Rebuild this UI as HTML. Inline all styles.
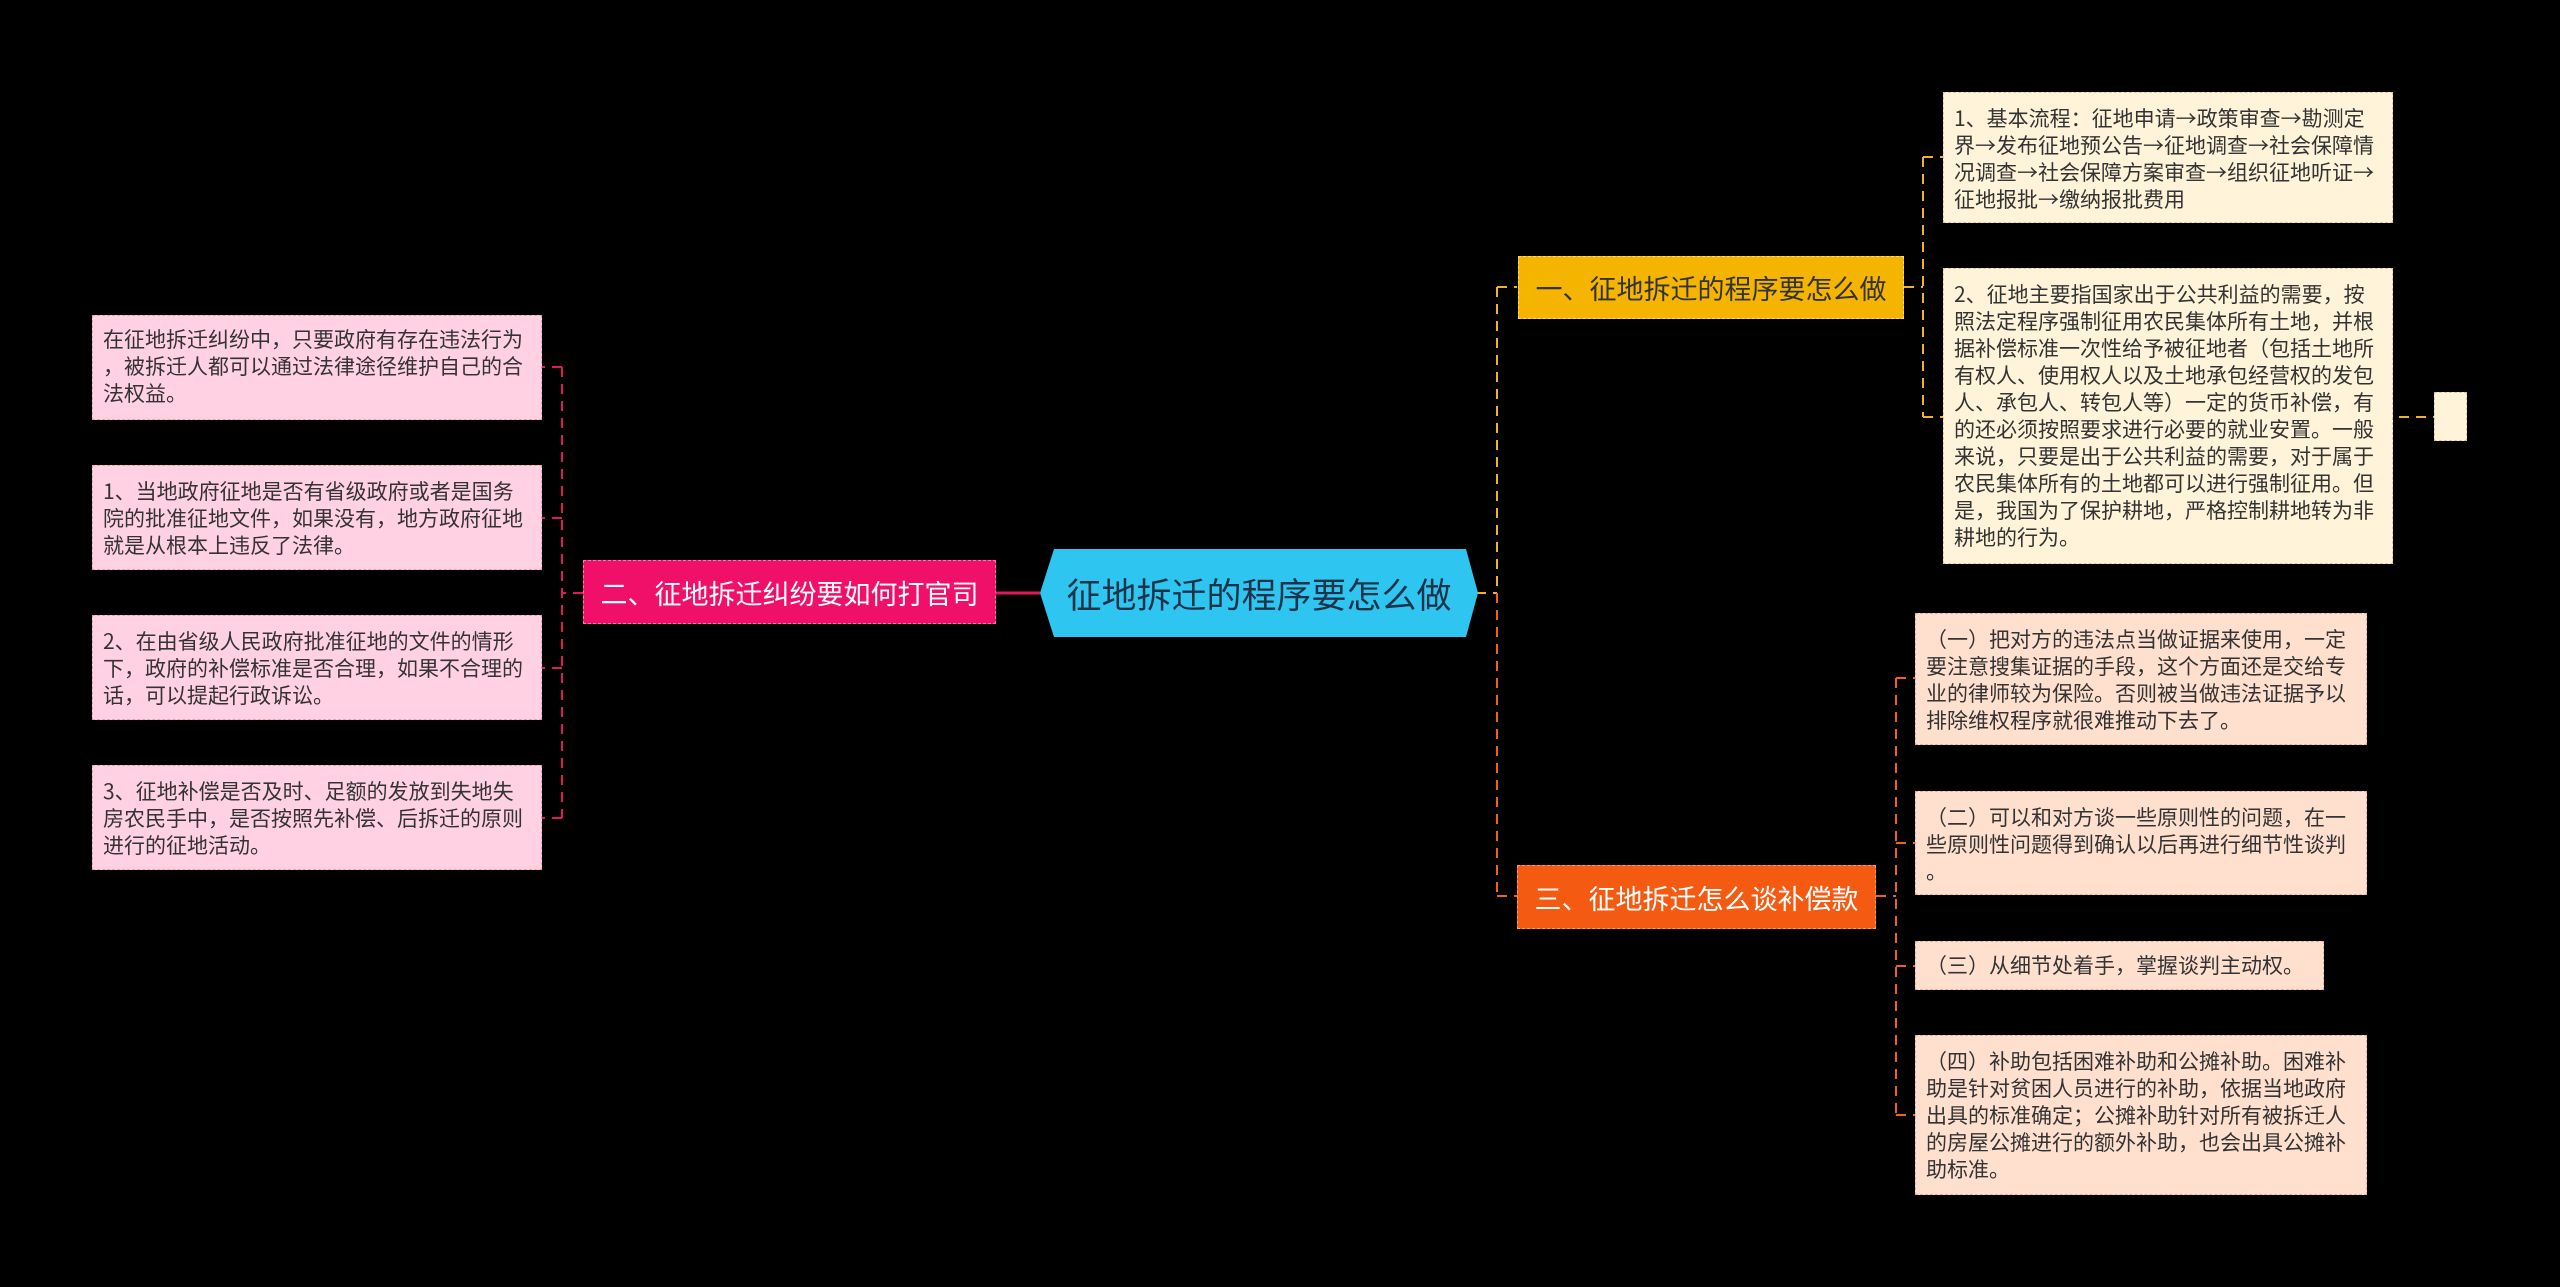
<!DOCTYPE html>
<html><head><meta charset="utf-8"><style>
body{margin:0;width:2560px;height:1287px;background:#000;position:relative;overflow:hidden;font-family:"Liberation Sans","Noto Sans CJK SC",sans-serif}
.b{position:absolute;box-sizing:border-box;font-family:"Noto Sans CJK SC","Liberation Sans",sans-serif;font-size:21px;line-height:27px;color:#333;padding:10px 12px 0 10px;word-break:break-all;line-break:anywhere}
.p{background:#ffd1e3;border:1.5px dashed #e8a0bc}
.y{background:#fff4d9;border:1.5px dashed #e0c890}
.o{background:#ffe0cf;border:1.5px dashed #e8b090}
.n{position:absolute;box-sizing:border-box;display:flex;align-items:center;justify-content:center;font-size:27px;color:#fff;white-space:nowrap}
svg{position:absolute;left:0;top:0}
</style></head><body>
<svg width="2560" height="1287">
<g fill="none" stroke-width="2" stroke-dasharray="10,7">
<path d="M1040 593 H996" stroke="#e0185e" stroke-dasharray="none" stroke-width="3"/>
<path d="M583 593 H562 M562 367 V818 M562 367 H542 M562 518 H542 M562 668 H542 M562 818 H542" stroke="#e0185e"/>
<path d="M1476 593 H1497 M1497 287 V593 M1497 287 H1517" stroke="#f0b030"/>
<path d="M1497 593 V896 M1497 896 H1517" stroke="#f06020"/>
<path d="M1904 287 H1923 M1923 157 V417 M1923 157 H1943 M1923 417 H2434" stroke="#f0b030"/>
<path d="M1876 896 H1896 M1896 678 V1115 M1896 678 H1915 M1896 843 H1915 M1896 966 H1915 M1896 1115 H1915" stroke="#f06020"/>
</g>
<polygon points="1054,549 1466,549 1478,593 1466,637 1054,637 1040,593" fill="#2ec6f0"/>
</svg>
<div class="n" style="left:1040px;top:549px;width:438px;height:88px;font-size:35px;color:#1d3349">征地拆迁的程序要怎么做</div>
<div class="n" style="left:583px;top:560px;width:413px;height:64px;background:#f0106a;border:1.5px dashed #ff7aa8">二、征地拆迁纠纷要如何打官司</div>
<div class="n" style="left:1518px;top:256px;width:386px;height:63px;background:#f5b400;color:#333;border:1.5px dashed #ffd870">一、征地拆迁的程序要怎么做</div>
<div class="n" style="left:1517px;top:865px;width:359px;height:64px;background:#f55a12;border:1.5px dashed #ff9a60">三、征地拆迁怎么谈补偿款</div>

<div class="b p" style="left:92px;top:315px;width:450px;height:105px">在征地拆迁纠纷中，只要政府有存在违法行为，被拆迁人都可以通过法律途径维护自己的合法权益。</div>
<div class="b p" style="left:92px;top:465px;width:450px;height:105px;padding-top:12px">1、当地政府征地是否有省级政府或者是国务院的批准征地文件，如果没有，地方政府征地就是从根本上违反了法律。</div>
<div class="b p" style="left:92px;top:615px;width:450px;height:105px;padding-top:12px">2、在由省级人民政府批准征地的文件的情形下，政府的补偿标准是否合理，如果不合理的话，可以提起行政诉讼。</div>
<div class="b p" style="left:92px;top:765px;width:450px;height:105px;padding-top:12px">3、征地补偿是否及时、足额的发放到失地失房农民手中，是否按照先补偿、后拆迁的原则进行的征地活动。</div>

<div class="b y" style="left:1943px;top:92px;width:450px;height:131px;padding-top:12px">1、基本流程：征地申请→政策审查→勘测定界→发布征地预公告→征地调查→社会保障情况调查→社会保障方案审查→组织征地听证→征地报批→缴纳报批费用</div>
<div class="b y" style="left:1943px;top:268px;width:450px;height:296px;padding-top:12px">2、征地主要指国家出于公共利益的需要，按照法定程序强制征用农民集体所有土地，并根据补偿标准一次性给予被征地者（包括土地所有权人、使用权人以及土地承包经营权的发包人、承包人、转包人等）一定的货币补偿，有的还必须按照要求进行必要的就业安置。一般来说，只要是出于公共利益的需要，对于属于农民集体所有的土地都可以进行强制征用。但是，我国为了保护耕地，严格控制耕地转为非耕地的行为。</div>
<div class="b y" style="left:2434px;top:392px;width:33px;height:49px"></div>

<div class="b o" style="left:1915px;top:613px;width:452px;height:132px;padding-top:12px">（一）把对方的违法点当做证据来使用，一定要注意搜集证据的手段，这个方面还是交给专业的律师较为保险。否则被当做违法证据予以排除维权程序就很难推动下去了。</div>
<div class="b o" style="left:1915px;top:791px;width:452px;height:104px;padding-top:12px">（二）可以和对方谈一些原则性的问题，在一些原则性问题得到确认以后再进行细节性谈判。</div>
<div class="b o" style="left:1915px;top:941px;width:409px;height:49px;padding-top:10px">（三）从细节处着手，掌握谈判主动权。</div>
<div class="b o" style="left:1915px;top:1035px;width:452px;height:160px;padding-top:12px">（四）补助包括困难补助和公摊补助。困难补助是针对贫困人员进行的补助，依据当地政府出具的标准确定；公摊补助针对所有被拆迁人的房屋公摊进行的额外补助，也会出具公摊补助标准。</div>
</body></html>
